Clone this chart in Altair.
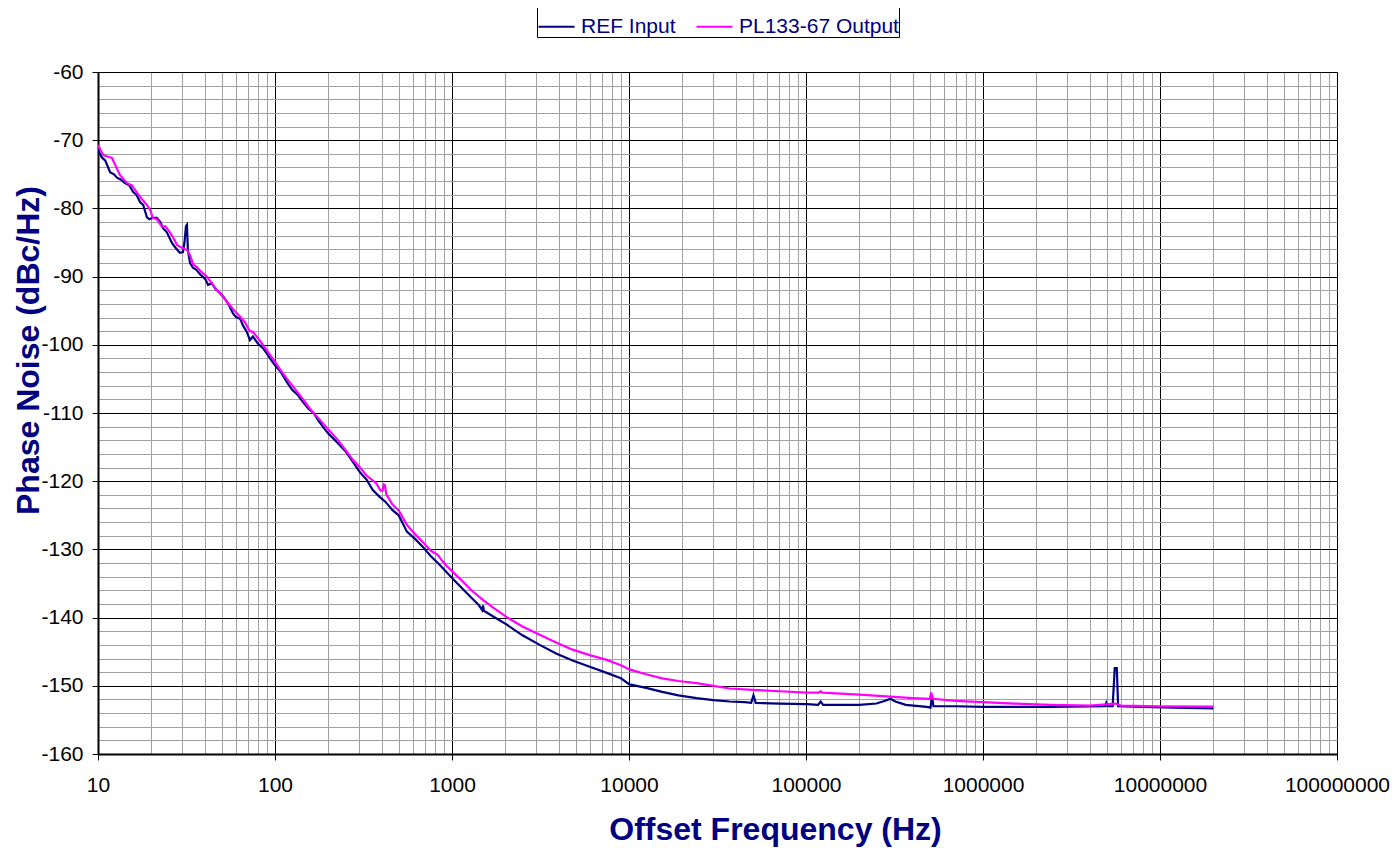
import altair as alt
import pandas as pd

# ---- data ----
ref_f = [10, 10.5, 11, 11.7, 12.3, 12.8, 13.5, 14.2, 15, 15.8, 16.5, 17.3, 18, 18.9, 19.5, 20.2,
         21.5, 22.5, 23.3, 24.5, 26.2, 27.5, 29, 30.2, 30.8, 31.4, 31.8, 32.2, 33.1, 34.4, 36,
         37.5, 39, 40.5, 41.8, 44, 46, 48.9, 52, 55, 57.9, 60, 63.6, 66, 69, 72.2, 75, 80, 85.5,
         90, 95, 100, 108, 117, 125, 135, 144, 155, 165, 178, 190, 200, 224, 250, 276, 302, 330,
         357, 390, 420, 460, 500, 556, 620, 683, 760, 854, 930, 1010, 1150, 1300, 1420, 1480,
         1497, 1515, 1700, 2030, 2500, 3130, 3900, 4800, 6000, 7480, 9000, 10060, 12500, 15400,
         19000, 24100, 30000, 37000, 45000, 49000, 50500, 52000, 71000, 101000, 117000, 121000,
         125000, 200000, 250000, 280000, 300000, 320000, 366000, 480000, 505000, 515000, 525000,
         700000, 1000000, 1500000, 2400000, 4900000, 4970000, 5050000, 5400000, 5550000,
         5700000, 5800000, 8000000, 12000000, 20000000]
ref_v = [-71.4, -72.5, -73.0, -74.7, -75.0, -75.5, -75.8, -76.3, -76.6, -77.6, -78.0, -79.1, -79.5,
         -81.3, -81.6, -81.4, -81.4, -82.0, -82.9, -83.5, -85.1, -85.8, -86.5, -86.4, -85.0, -82.6,
         -82.4, -86.1, -88.0, -88.7, -89.0, -89.6, -90.0, -90.4, -91.2, -91.0, -91.8, -92.4, -93.2,
         -94.2, -95.4, -95.9, -96.2, -97.2, -98.0, -99.3, -98.8, -99.8, -100.5, -101.3, -102.2,
         -103.0, -104.0, -105.5, -106.6, -107.4, -108.4, -109.4, -110.0, -111.3, -112.3, -113.0,
         -114.3, -115.6, -117.2, -118.7, -119.8, -121.3, -122.3, -123.0, -124.2, -125.0, -127.4,
         -128.5, -129.6, -131.0, -132.3, -133.3, -134.3, -135.8, -137.2, -138.2, -138.9, -138.2,
         -139.0, -139.8, -141.0, -142.6, -144.0, -145.3, -146.3, -147.2, -148.1, -148.9, -149.8,
         -150.3, -150.9, -151.4, -151.8, -152.1, -152.3, -152.4, -152.5, -151.4, -152.5, -152.6,
         -152.7, -152.8, -152.3, -152.8, -152.8, -152.6, -152.2, -151.9, -152.3, -152.8, -153.1,
         -153.2, -151.5, -153.0, -153.0, -153.1, -153.1, -153.1, -153.0, -152.5, -153.0, -153.0,
         -147.4, -147.4, -153.0, -153.1, -153.2, -153.3]

out_f = [10, 10.7, 11.3, 12, 12.6, 13.3, 14.6, 15.5, 16.6, 17.5, 18.9, 19.7, 20.4, 21.5, 23, 24,
         25.5, 27, 28, 30, 31.8, 33, 34.5, 36.2, 38, 41.2, 44, 47, 51, 55.6, 59, 63.6, 68, 72, 75,
         80, 85.5, 92, 100, 108, 117, 130, 144, 160, 178, 200, 224, 250, 276, 302, 330, 373, 395,
         405, 412, 418, 425, 460, 500, 556, 620, 683, 760, 830, 870, 930, 1010, 1150, 1300, 1497,
         1700, 2030, 2500, 3130, 3900, 4800, 6000, 7480, 9000, 10060, 12500, 15400, 19000, 24100,
         30000, 37000, 50000, 71000, 101000, 118000, 121000, 124000, 200000, 300000, 400000,
         500000, 510000, 520000, 700000, 1000000, 1500000, 2400000, 4000000, 5600000, 6000000,
         10000000, 20000000]
out_v = [-70.7, -72.2, -72.4, -72.6, -73.8, -75.1, -76.3, -76.6, -77.7, -78.5, -79.5, -80.2, -81.4,
         -81.6, -82.7, -82.6, -83.5, -84.6, -85.4, -85.8, -86.1, -86.8, -88.2, -88.6, -89.2, -90.0,
         -91.0, -92.0, -93.0, -94.2, -95.0, -95.9, -96.8, -98.0, -98.1, -99.0, -100.0, -101.2,
         -102.5, -103.8, -105.0, -106.5, -108.0, -109.6, -110.9, -112.4, -113.8, -115.4, -116.9,
         -118.0, -119.2, -120.3, -121.4, -121.4, -120.5, -120.6, -121.9, -123.4, -124.3, -126.4,
         -127.8, -128.9, -130.2, -130.8, -131.5, -132.4, -133.3, -134.7, -136.1, -137.4, -138.5,
         -139.9, -141.3, -142.5, -143.7, -144.7, -145.5, -146.2, -147.0, -147.6, -148.3, -148.9,
         -149.3, -149.6, -150.0, -150.4, -150.6, -150.8, -151.0, -151.0, -150.8, -151.0, -151.3,
         -151.6, -151.8, -151.9, -151.0, -151.9, -152.2, -152.4, -152.6, -152.8, -152.9, -152.6,
         -152.9, -153.0, -153.05]

series_names = ["REF Input", "PL133-67 Output"]
series_colors = ["#000080", "#FF00FF"]

x_ticks = [m * 10 ** e for e in range(1, 8) for m in range(1, 10)] + [10 ** 8]
y_ticks = list(range(-160, -58, 2))

df = pd.concat([
    pd.DataFrame({"f": ref_f, "v": ref_v, "s": series_names[0], "o": range(len(ref_f))}),
    pd.DataFrame({"f": out_f, "v": out_v, "s": series_names[1], "o": range(len(out_f))}),
])

major_x = "abs(log(datum.value)/LN10 - round(log(datum.value)/LN10)) < 0.001"
major_y = "datum.value % 10 == 0"
FONT = "Liberation Sans"

x_axis = alt.Axis(
    values=x_ticks,
    title="Offset Frequency (Hz)",
    labelExpr=f"({major_x}) ? toString(datum.value) : ''",
    labelOverlap=False, labelFlush=False,
    labelFont=FONT, labelFontSize=21, labelColor="#000000", labelPadding=14,
    tickColor={"condition": {"test": major_x, "value": "#000000"}, "value": "rgba(0,0,0,0)"},
    tickSize=6, tickWidth=1,
    gridColor={"condition": {"test": major_x, "value": "#000000"}, "value": "#a0a0a0"},
    gridWidth=1, gridOpacity=1,
    domainColor="#000000", domainWidth=2,
    titleFont=FONT, titleFontSize=32, titleFontWeight="bold", titleColor="#000080",
    titleX=677, titleY=75, titleBaseline="middle", titleAlign="center",
)

y_axis = alt.Axis(
    values=y_ticks,
    title="Phase Noise (dBc/Hz)",
    labelExpr=f"({major_y}) ? toString(datum.value) : ''",
    labelOverlap=False, labelFlush=False,
    labelFont=FONT, labelFontSize=21, labelColor="#000000", labelPadding=9,
    tickColor={"condition": {"test": major_y, "value": "#000000"}, "value": "rgba(0,0,0,0)"},
    tickSize=6, tickWidth=1,
    gridColor={"condition": {"test": major_y, "value": "#000000"}, "value": "#a0a0a0"},
    gridWidth=1, gridOpacity=1,
    domainColor="#000000", domainWidth=2,
    titleFont=FONT, titleFontSize=32, titleFontWeight="bold", titleColor="#000080",
    titleX=-70, titleY=278, titleAngle=270, titleBaseline="middle", titleAlign="center",
)

chart = alt.Chart(df).mark_line(strokeWidth=2.2, clip=True).encode(
    x=alt.X("f:Q", scale=alt.Scale(type="log", domain=[10, 10 ** 8], nice=False), axis=x_axis),
    y=alt.Y("v:Q", scale=alt.Scale(domain=[-160, -60], nice=False, zero=False), axis=y_axis),
    color=alt.Color("s:N", scale=alt.Scale(domain=series_names, range=series_colors),
                    legend=alt.Legend(
                        title=None, orient="none", legendX=439, legendY=-65,
                        direction="horizontal", strokeColor="#000000", fillColor="#ffffff",
                        padding=0, labelFont=FONT, labelFontSize=21, labelColor="#000080",
                        labelLimit=400,
                        symbolType="stroke", symbolSize=1300, symbolStrokeWidth=2,
                        labelOffset=5, columnPadding=16, offset=0,
                    )),
    order="o:Q",
).properties(
    width=1239, height=682,
    autosize=alt.AutoSizeParams(type="none"),
    padding={"left": 90, "top": 64, "right": 53, "bottom": 96},
).configure_view(
    stroke="#000000", strokeWidth=2,
).configure(background="#ffffff")

chart.save("out.html", embed_options={"renderer": "svg", "actions": False})
